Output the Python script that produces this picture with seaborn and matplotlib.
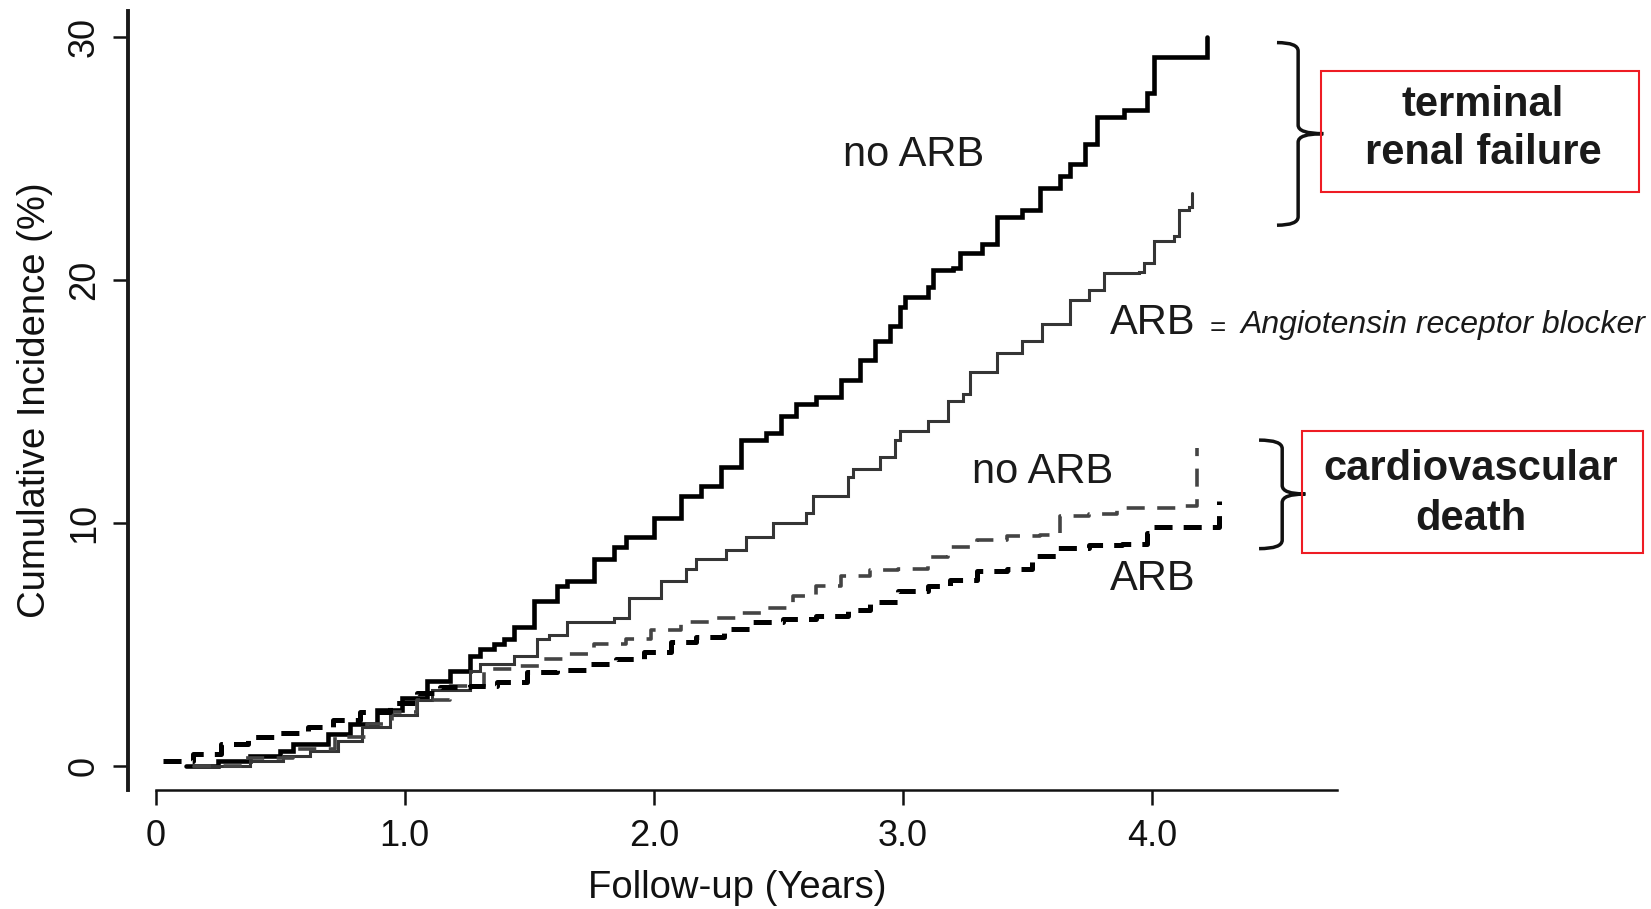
import matplotlib
matplotlib.use("Agg")
import matplotlib.pyplot as plt
from matplotlib.patches import Rectangle, PathPatch
from matplotlib.path import Path
from matplotlib import font_manager
import pandas as pd
import seaborn as sns

# Cumulative incidence (%) over follow-up (years), stored as step-curve corners
renal_noarb_t = [0.12, 0.25, 0.38, 0.50, 0.55, 0.69, 0.78, 0.89, 0.99, 1.09, 1.18, 1.26, 1.30, 1.36,
                 1.40, 1.44, 1.52, 1.61, 1.65, 1.76, 1.84, 1.89, 2.00, 2.11, 2.19, 2.27, 2.35, 2.45,
                 2.51, 2.57, 2.65, 2.75, 2.83, 2.89, 2.95, 2.99, 3.01, 3.10, 3.12, 3.20, 3.23, 3.32,
                 3.38, 3.48, 3.55, 3.63, 3.67, 3.73, 3.78, 3.89, 3.98, 4.01, 4.22]
renal_noarb_y = [0.0, 0.2, 0.4, 0.6, 0.9, 1.3, 1.7, 2.3, 2.8, 3.5, 3.9, 4.5, 4.8, 5.0,
                 5.2, 5.7, 6.8, 7.4, 7.6, 8.5, 9.0, 9.4, 10.2, 11.1, 11.5, 12.3, 13.4, 13.7,
                 14.4, 14.9, 15.2, 15.9, 16.7, 17.5, 18.1, 18.9, 19.3, 19.7, 20.4, 20.5, 21.1, 21.5,
                 22.6, 22.9, 23.8, 24.3, 24.8, 25.6, 26.7, 27.0, 27.7, 29.2, 30.0]

renal_arb_t = [0.15, 0.38, 0.51, 0.62, 0.73, 0.83, 0.94, 1.05, 1.11, 1.26, 1.30, 1.44, 1.53, 1.58,
               1.65, 1.84, 1.90, 2.03, 2.13, 2.17, 2.29, 2.37, 2.48, 2.61, 2.64, 2.78, 2.80, 2.91,
               2.97, 2.99, 3.10, 3.18, 3.24, 3.27, 3.38, 3.48, 3.56, 3.67, 3.75, 3.81, 3.95, 3.97,
               4.01, 4.09, 4.11, 4.15, 4.16]
renal_arb_y = [0.0, 0.2, 0.4, 0.6, 1.0, 1.6, 2.1, 2.7, 3.1, 3.9, 4.2, 4.5, 5.2, 5.4,
               5.9, 6.1, 6.9, 7.6, 8.1, 8.5, 8.9, 9.4, 10.0, 10.4, 11.1, 11.9, 12.2, 12.7,
               13.4, 13.8, 14.2, 15.0, 15.3, 16.2, 17.0, 17.5, 18.2, 19.2, 19.6, 20.3, 20.35, 20.7,
               21.6, 21.8, 22.9, 23.0, 23.6]

cv_noarb_t = [0.15, 0.35, 0.55, 0.72, 0.85, 0.95, 1.05, 1.18, 1.32, 1.44, 1.56, 1.65, 1.76, 1.89,
              1.99, 2.11, 2.23, 2.35, 2.45, 2.56, 2.65, 2.75, 2.87, 2.98, 3.10, 3.18, 3.30, 3.42,
              3.55, 3.63, 3.75, 3.86, 4.00, 4.13, 4.18]
cv_noarb_y = [0.0, 0.3, 0.7, 1.2, 1.7, 2.2, 2.7, 3.3, 4.0, 4.1, 4.4, 4.6, 5.0, 5.2,
              5.6, 5.9, 6.1, 6.3, 6.5, 7.0, 7.4, 7.8, 8.06, 8.1, 8.6, 9.0, 9.3, 9.45,
              9.5, 10.3, 10.35, 10.6, 10.62, 10.7, 13.1]

cv_arb_t = [0.03, 0.15, 0.26, 0.37, 0.49, 0.61, 0.71, 0.82, 0.94, 1.05, 1.14, 1.26, 1.37, 1.49,
            1.61, 1.74, 1.85, 1.96, 2.07, 2.17, 2.28, 2.40, 2.52, 2.65, 2.78, 2.87, 2.98, 3.10,
            3.19, 3.30, 3.42, 3.52, 3.62, 3.75, 3.88, 3.98, 3.99, 4.27]
cv_arb_y = [0.2, 0.5, 0.9, 1.2, 1.35, 1.6, 1.9, 2.2, 2.6, 3.0, 3.25, 3.3, 3.45, 3.85,
            3.95, 4.2, 4.4, 4.7, 5.1, 5.3, 5.65, 5.9, 6.05, 6.15, 6.4, 6.75, 7.2, 7.4,
            7.65, 8.0, 8.1, 8.65, 8.95, 9.1, 9.15, 9.6, 9.85, 10.9]

x_ticks = [0, 1, 2, 3, 4]
x_tick_labels = ["0", "1.0", "2.0", "3.0", "4.0"]
y_ticks = [0, 10, 20, 30]
y_tick_labels = ["0", "10", "20", "30"]

sns.set_theme(style="white")
available = {f.name for f in font_manager.fontManager.ttflist}
narrow = "Liberation Sans Narrow" in available
axis_family = ["Liberation Sans Narrow", "DejaVu Sans"] if narrow else ["Liberation Sans", "DejaVu Sans"]
tick_size = 30 if narrow else 26
label_size = 33 if narrow else 27.5
plt.rcParams["font.family"] = ["Liberation Sans", "DejaVu Sans"]
plt.rcParams["lines.scale_dashes"] = False

ink = "#111111"
fig = plt.figure(figsize=(16.51, 9.09), dpi=100)
ax = fig.add_axes([0.0778, 0.1309, 0.732, 0.8575])

curves = [
    (renal_noarb_t, renal_noarb_y, "#000000", 3.3, None),
    (renal_arb_t, renal_arb_y, "#353535", 2.2, None),
    (cv_noarb_t, cv_noarb_y, "#444444", 2.6, (13, 9)),
    (cv_arb_t, cv_arb_y, "#000000", 3.6, (13, 8)),
]
for t, y, col, lw, dash in curves:
    df = pd.DataFrame({"t": t, "y": y})
    sns.lineplot(data=df, x="t", y="y", ax=ax, drawstyle="steps-post", estimator=None,
                 sort=False, color=col, lw=lw, legend=False)
    line = ax.lines[-1]
    line.set_solid_joinstyle("miter")
    if dash:
        line.set_dashes(dash)
        line.set_dash_capstyle("butt")

ax.set_xlim(-0.11, 4.744)
ax.set_ylim(-1.0, 31.1)
ax.spines[["top", "right"]].set_visible(False)
ax.spines["left"].set_linewidth(2.8)
ax.spines["left"].set_color("#1a1a1a")
ax.spines["bottom"].set_linewidth(1.8)
ax.spines["bottom"].set_color(ink)
ax.spines["bottom"].set_bounds(0, 4.744)

ax.set_xticks(x_ticks)
ax.set_xticklabels(x_tick_labels, fontfamily=axis_family, fontsize=tick_size, color=ink)
ax.set_yticks(y_ticks)
ax.set_yticklabels(y_tick_labels, fontfamily=axis_family, fontsize=tick_size, color=ink,
                   rotation=90, va="center")
ax.tick_params(axis="both", direction="out", length=11, width=1.8, color=ink,
               bottom=True, left=True)
ax.tick_params(axis="x", pad=10)
ax.tick_params(axis="y", pad=8)

ax.set_xlabel("Follow-up (Years)", fontfamily=axis_family, fontsize=label_size, color=ink)
ax.set_ylabel("Cumulative Incidence (%)", fontfamily=axis_family, fontsize=label_size, color=ink)
ax.xaxis.set_label_coords(0.5035, -0.126)
ax.xaxis.label.set_va("center")
ax.yaxis.set_label_coords(-0.0774, 0.5)
ax.yaxis.label.set_va("center")


def brace(x_tip, x_v, x_pt, y_top, y_bot, y_mid, ry=0.35):
    verts = [(x_tip, y_top), (x_v, y_top), (x_v, y_top - ry), (x_v, y_mid + ry),
             (x_v, y_mid), (x_pt, y_mid),
             (x_pt, y_mid), (x_v, y_mid), (x_v, y_mid - ry), (x_v, y_bot + ry),
             (x_v, y_bot), (x_tip, y_bot)]
    codes = [Path.MOVETO, Path.CURVE3, Path.CURVE3, Path.LINETO, Path.CURVE3, Path.CURVE3,
             Path.MOVETO, Path.CURVE3, Path.CURVE3, Path.LINETO, Path.CURVE3, Path.CURVE3]
    ax.add_patch(PathPatch(Path(verts, codes), fill=False, lw=2.5, edgecolor=ink,
                           clip_on=False, capstyle="butt"))


brace(4.503, 4.588, 4.689, 29.78, 22.26, 26.03)
brace(4.431, 4.524, 4.617, 13.41, 8.94, 11.19)

red = "#ee1c24"
ax.add_patch(Rectangle((4.681, 23.64), 5.958 - 4.681, 28.61 - 23.64, fill=False,
                       edgecolor=red, lw=1.5, clip_on=False))
ax.add_patch(Rectangle((4.605, 8.76), 5.975 - 4.605, 13.80 - 8.76, fill=False,
                       edgecolor=red, lw=1.5, clip_on=False))

txt = "#1a1a1a"
ax.text(5.33, 27.2, "terminal", fontsize=30, fontweight="bold", ha="center", va="center", color=txt)
ax.text(5.33, 25.25, "renal failure", fontsize=30, fontweight="bold", ha="center", va="center", color=txt)
ax.text(5.28, 12.23, "cardiovascular", fontsize=30, fontweight="bold", ha="center", va="center", color=txt)
ax.text(5.28, 10.15, "death", fontsize=30, fontweight="bold", ha="center", va="center", color=txt)

ax.text(3.044, 25.16, "no ARB", fontsize=30, ha="center", va="center", color=txt)
ax.text(4.004, 18.22, "ARB", fontsize=30, ha="center", va="center", color=txt)
ax.text(4.266, 18.0, "=", fontsize=20, ha="center", va="center", color=txt)
ax.text(4.355, 18.13, "Angiotensin receptor blocker", fontsize=23, style="italic",
        ha="left", va="center", color=txt)
ax.text(3.56, 12.10, "no ARB", fontsize=30, ha="center", va="center", color=txt)
ax.text(4.004, 7.68, "ARB", fontsize=30, ha="center", va="center", color=txt)

fig.savefig("out.png", dpi=100, facecolor="white")
